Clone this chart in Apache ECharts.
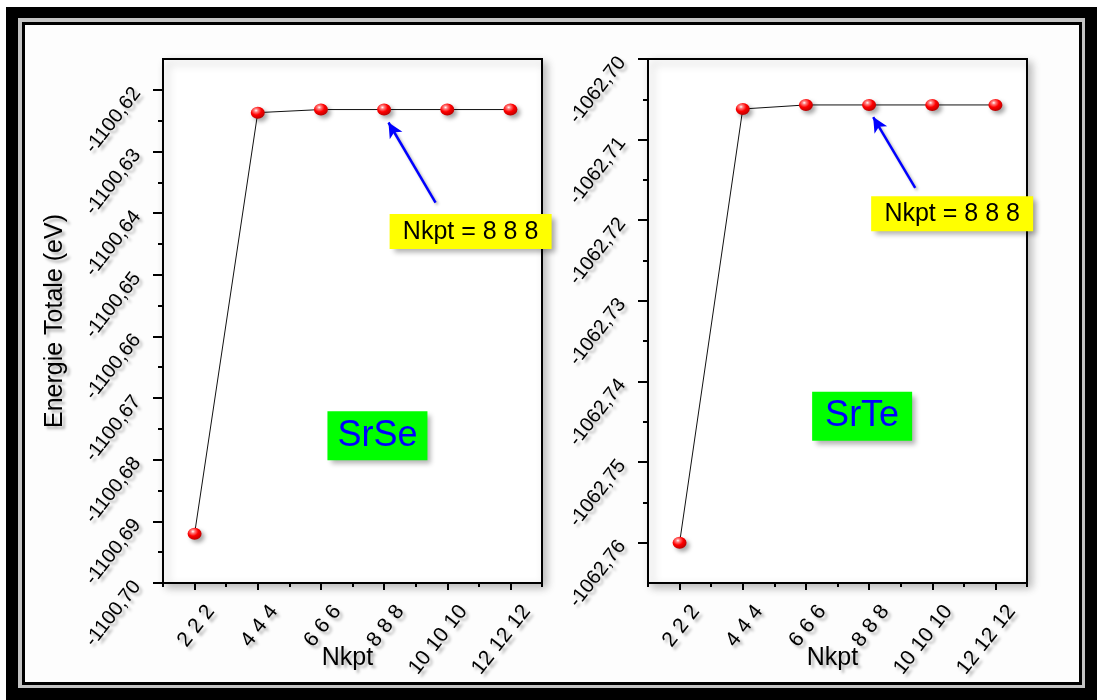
<!DOCTYPE html>
<html>
<head>
<meta charset="utf-8">
<script src="https://cdn.jsdelivr.net/npm/echarts@6/dist/echarts.min.js"></script>
<style>
html,body{margin:0;padding:0;background:#fff;}
#chart{width:1097px;height:700px;}
</style>
</head>
<body>
<div id="chart"></div>
<script>
// ---- data ----
const kpts = [2, 4, 6, 8, 10, 12];
const kptLabels = ['2 2 2', '4 4 4', '6 6 6', '8 8 8', '10 10 10', '12 12 12'];
const xMinorTicks = [1, 3, 5, 7, 9, 11, 13];

const srseEnergy = [-1100.6920, -1100.6237, -1100.6232, -1100.6232, -1100.6232, -1100.6232];
const srteEnergy = [-1062.7600, -1062.7062, -1062.7057, -1062.7057, -1062.7057, -1062.7057];

const srseTicks = [-1100.70, -1100.69, -1100.68, -1100.67, -1100.66, -1100.65, -1100.64, -1100.63, -1100.62];
const srseMinorTicks = [-1100.695, -1100.685, -1100.675, -1100.665, -1100.655, -1100.645, -1100.635, -1100.625];
const srteTicks = [-1062.76, -1062.75, -1062.74, -1062.73, -1062.72, -1062.71, -1062.70];
const srteMinorTicks = [-1062.755, -1062.745, -1062.735, -1062.725, -1062.715, -1062.705];

const yTitle = 'Energie Totale (eV)';
const xTitle = 'Nkpt';
const convLabel = 'Nkpt = 8 8 8';

// ---- style helpers ----
const FONT = '"Liberation Sans", Arial, Helvetica, sans-serif';
const txtShadow = {textShadowColor: 'rgba(0,0,0,0.30)', textShadowBlur: 3, textShadowOffsetX: 3, textShadowOffsetY: 3};
const ballColor = {
  type: 'radial', x: 0.38, y: 0.32, r: 0.75,
  colorStops: [
    {offset: 0, color: '#ffffff'},
    {offset: 0.18, color: '#ff8080'},
    {offset: 0.5, color: '#ff0000'},
    {offset: 1, color: '#b00000'}
  ]
};
const fmtY = v => v.toFixed(2).replace('.', ',');
const fmtX = v => kptLabels[kpts.indexOf(Math.round(v))] || '';

function xAxes(gi) {
  return [
    {
      gridIndex: gi, type: 'value', position: 'bottom', min: 1, max: 13,
      axisLine: {show: true, lineStyle: {color: '#000', width: 2}},
      axisTick: {show: true, customValues: kpts, length: 7, lineStyle: {color: '#000', width: 2}},
      axisLabel: Object.assign({show: true, customValues: kpts, formatter: fmtX, rotate: 52, fontSize: 21,
        color: '#000', fontFamily: FONT, margin: 12, verticalAlign: 'top', padding: [10, 0, 0, 0]}, txtShadow),
      splitLine: {show: false},
      name: xTitle, nameLocation: 'middle', nameGap: 63, nameMoveOverlap: false,
      nameTextStyle: Object.assign({fontSize: 25, color: '#000', fontFamily: FONT, padding: [0, 10, 0, 0]}, txtShadow)
    },
    {
      gridIndex: gi, type: 'value', position: 'bottom', min: 1, max: 13,
      axisLine: {show: false},
      axisTick: {show: true, customValues: xMinorTicks, length: 4, lineStyle: {color: '#000', width: 2}},
      axisLabel: {show: false},
      splitLine: {show: false}
    }
  ];
}

function yAxes(gi, min, max, ticks, minor, withName) {
  const main = {
    gridIndex: gi, type: 'value', position: 'left', min: min, max: max,
    axisLine: {show: true, lineStyle: {color: '#000', width: 2}},
    axisTick: {show: true, customValues: ticks, length: 10, lineStyle: {color: '#000', width: 2}},
    axisLabel: Object.assign({show: true, customValues: ticks, formatter: fmtY, rotate: 52, fontSize: 20,
      color: '#000', fontFamily: FONT, margin: 26}, txtShadow),
    splitLine: {show: false}
  };
  if (withName) {
    Object.assign(main, {
      name: yTitle, nameLocation: 'middle', nameGap: 95, nameRotate: 90, nameMoveOverlap: false,
      nameTextStyle: Object.assign({fontSize: 25, color: '#000', fontFamily: FONT}, txtShadow)
    });
  }
  return [main, {
    gridIndex: gi, type: 'value', position: 'left', min: min, max: max,
    axisLine: {show: false},
    axisTick: {show: true, customValues: minor, length: 5, lineStyle: {color: '#000', width: 2}},
    axisLabel: {show: false},
    splitLine: {show: false}
  }];
}

function series(xi, yi, values, arrow, boxAt, nameBox) {
  return {
    type: 'line', xAxisIndex: xi, yAxisIndex: yi, clip: false,
    data: kpts.map((k, i) => [k, values[i]]),
    symbol: 'circle', symbolSize: [14, 12],
    itemStyle: {color: ballColor, shadowColor: 'rgba(0,0,0,0.35)', shadowBlur: 4, shadowOffsetX: 3, shadowOffsetY: 3},
    lineStyle: {color: '#111', width: 1},
    z: 5,
    markLine: {
      silent: true, symbol: ['arrow', 'none'], symbolSize: [11, 15],
      lineStyle: {color: '#0000ff', width: 2.5, type: 'solid', shadowColor: 'rgba(0,0,0,0.3)', shadowBlur: 3, shadowOffsetX: 2, shadowOffsetY: 2},
      itemStyle: {color: '#0000ff'},
      label: {show: false},
      data: [[{coord: arrow[0]}, {coord: arrow[1]}]]
    },
    markPoint: {
      silent: true,
      data: [
        {coord: boxAt, symbol: 'rect', symbolSize: [162, 35],
          itemStyle: {color: '#ffff00', shadowColor: 'rgba(0,0,0,0.3)', shadowBlur: 5, shadowOffsetX: 4, shadowOffsetY: 4},
          label: {show: true, position: 'inside', formatter: convLabel, color: '#000', fontSize: 25, fontFamily: FONT}},
        {coord: nameBox.at, symbol: 'rect', symbolSize: [100, 49],
          itemStyle: {color: '#00ff00', shadowColor: 'rgba(0,0,0,0.3)', shadowBlur: 5, shadowOffsetX: 4, shadowOffsetY: 4},
          label: {show: true, position: 'inside', formatter: nameBox.text, color: '#0000ff', fontSize: 36, fontFamily: FONT}}
      ]
    }
  };
}

const gridStyle = {show: true, borderColor: '#000', borderWidth: 2, backgroundColor: '#fff',
  containLabel: false, outerBoundsMode: 'none',
  shadowColor: 'rgba(0,0,0,0.25)', shadowBlur: 8, shadowOffsetX: 4, shadowOffsetY: 4};

const chart = echarts.init(document.getElementById('chart'), null, {renderer: 'canvas'});
chart.setOption({
  animation: false,
  backgroundColor: '#fff',
  textStyle: {fontFamily: FONT},
  graphic: [
    {type: 'rect', z: -10, shape: {x: 6, y: 7, width: 1091, height: 693}, style: {fill: '#000'}},
    {type: 'rect', z: -9, shape: {x: 18, y: 18, width: 1067, height: 670}, style: {fill: '#c4c4c4'}},
    {type: 'rect', z: -8, shape: {x: 22, y: 22, width: 1060, height: 663}, style: {fill: '#000'}},
    {type: 'rect', z: -7, shape: {x: 25, y: 25, width: 1054, height: 657}, style: {fill: '#fdfdfd'}}
  ],
  grid: [
    Object.assign({left: 163, top: 59, width: 379, height: 524}, gridStyle),
    Object.assign({left: 648, top: 59, width: 379, height: 524}, gridStyle)
  ],
  xAxis: [].concat(xAxes(0), xAxes(1)),
  yAxis: [].concat(
    yAxes(0, -1100.70, -1100.615, srseTicks, srseMinorTicks, true),
    yAxes(1, -1062.765, -1062.70, srteTicks, srteMinorTicks, false)
  ),
  series: [
    series(0, 0, srseEnergy, [[8.14, -1100.6253], [9.63, -1100.6383]], [10.74, -1100.6430], {at: [7.79, -1100.6761], text: 'SrSe'}),
    series(2, 2, srteEnergy, [[8.13, -1062.7072], [9.46, -1062.7160]], [10.63, -1062.7192], {at: [7.78, -1062.7443], text: 'SrTe'})
  ]
});
</script>
</body>
</html>
